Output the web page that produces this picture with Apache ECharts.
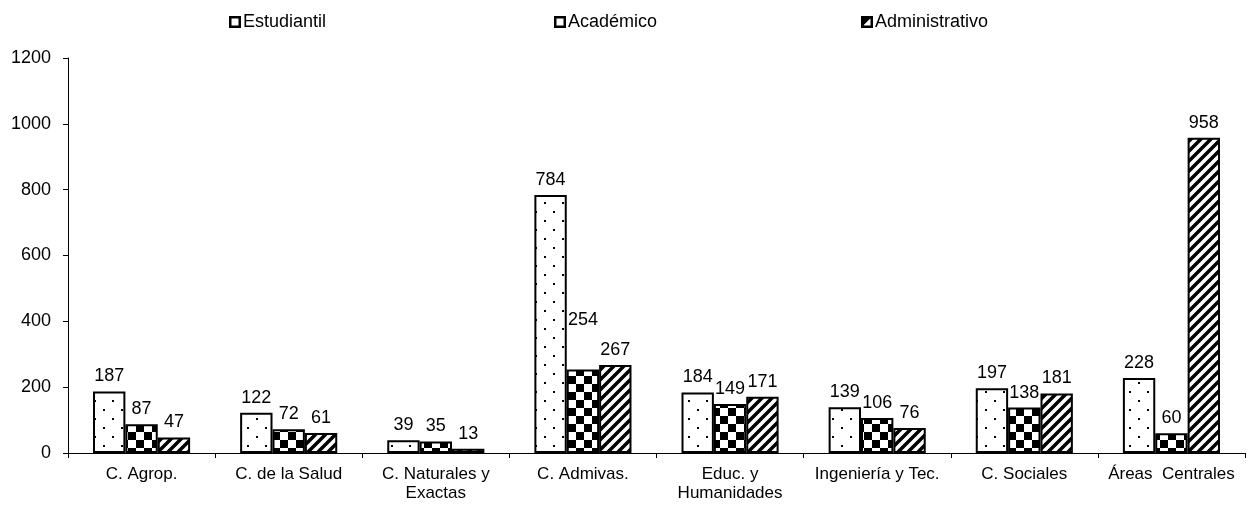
<!DOCTYPE html>
<html>
<head>
<meta charset="utf-8">
<script src="https://cdn.jsdelivr.net/npm/echarts@6/dist/echarts.min.js"></script>
<style>
html,body{margin:0;padding:0;background:#fff;}
#chart{width:1250px;height:506px;}
</style>
</head>
<body>
<div id="chart"></div>
<script>
const categories = ['C. Agrop.', 'C. de la Salud', 'C. Naturales y\nExactas', 'C. Admivas.', 'Educ. y\nHumanidades', 'Ingeniería y Tec.', 'C. Sociales', 'Áreas  Centrales'];
const seriesNames = ['Estudiantil', 'Académico', 'Administrativo'];
const estudiantil = [187, 122, 39, 784, 184, 139, 197, 228];
const academico = [87, 72, 35, 254, 149, 106, 138, 60];
const administrativo = [47, 61, 13, 267, 171, 76, 181, 958];
const yTicks = [0, 200, 400, 600, 800, 1000, 1200];

function makeCanvas(w, h, draw) {
  const c = document.createElement('canvas');
  c.width = w; c.height = h;
  const ctx = c.getContext('2d');
  ctx.fillStyle = '#fff';
  ctx.fillRect(0, 0, w, h);
  ctx.fillStyle = '#000';
  ctx.strokeStyle = '#000';
  draw(ctx);
  return c;
}
const dotPattern = makeCanvas(18, 18, ctx => {
  ctx.fillRect(4, 4, 2, 2);
  ctx.fillRect(13, 13, 2, 2);
});
const checkPattern = makeCanvas(16, 16, ctx => {
  ctx.fillRect(0, 0, 8, 8);
  ctx.fillRect(8, 8, 8, 8);
});
const stripePattern = makeCanvas(10, 10, ctx => {
  ctx.lineWidth = 3.5;
  ctx.beginPath();
  ctx.moveTo(-5, 15); ctx.lineTo(15, -5);
  ctx.moveTo(-15, 15); ctx.lineTo(5, -5);
  ctx.moveTo(5, 15); ctx.lineTo(25, -5);
  ctx.stroke();
});
function legendIcon(half) {
  const c = makeCanvas(12, 12, ctx => {
    if (half) {
      ctx.beginPath();
      ctx.moveTo(0, 12); ctx.lineTo(12, 0); ctx.lineTo(0, 0); ctx.closePath();
      ctx.fill();
      ctx.fillStyle = '#fff';
      ctx.beginPath();
      ctx.moveTo(3, 9); ctx.lineTo(9, 3); ctx.lineTo(9, 9); ctx.closePath();
      ctx.fill();
    }
    ctx.lineWidth = 2.5;
    ctx.strokeRect(1.25, 1.25, 9.5, 9.5);
  });
  return 'image://' + c.toDataURL();
}

const patterns = [dotPattern, checkPattern, stripePattern];
const values = [estudiantil, academico, administrativo];
const legendLefts = [224, 549, 856];

const chart = echarts.init(document.getElementById('chart'), null, {renderer: 'canvas'});
const font = 'Liberation Sans, Arial, sans-serif';

const series = seriesNames.map((name, i) => ({
  name: name,
  type: 'bar',
  barGap: '0%',
  barCategoryGap: '34%',
  itemStyle: {
    color: {image: patterns[i], repeat: 'repeat'},
    borderColor: '#000',
    borderWidth: 2
  },
  label: {
    show: true,
    position: 'top',
    distance: 6,
    color: '#000',
    fontSize: 18,
    fontFamily: font
  },
  data: values[i].map((v, j) => (i === 1 && j === 3) ? {value: v, label: {offset: [0, -34]}} : v)
}));

chart.setOption({
  animation: false,
  backgroundColor: '#fff',
  legend: seriesNames.map((name, i) => ({
    data: [{name: name, icon: legendIcon(i === 2)}],
    left: legendLefts[i],
    top: 8,
    itemWidth: 12,
    itemHeight: 12,
    itemGap: 2,
    textStyle: {color: '#000', fontSize: 18, fontFamily: font, padding: [0, 0, 0, -3]},
    selectedMode: false
  })),
  grid: {left: 68, right: 5, top: 58, bottom: 53, containLabel: false},
  xAxis: {
    type: 'category',
    data: categories,
    axisLine: {lineStyle: {color: '#000', width: 1}},
    axisTick: {show: true, length: 5, lineStyle: {color: '#000'}},
    axisLabel: {color: '#000', fontSize: 17, fontFamily: font, margin: 12, interval: 0, lineHeight: 19}
  },
  yAxis: {
    type: 'value',
    min: yTicks[0],
    max: yTicks[yTicks.length - 1],
    interval: yTicks[1] - yTicks[0],
    splitLine: {show: false},
    axisLine: {show: true, lineStyle: {color: '#000', width: 1}},
    axisTick: {show: true, length: 5, lineStyle: {color: '#000'}},
    axisLabel: {color: '#000', fontSize: 18, fontFamily: font, margin: 17, formatter: v => String(v)}
  },
  series: series
});
</script>
</body>
</html>
